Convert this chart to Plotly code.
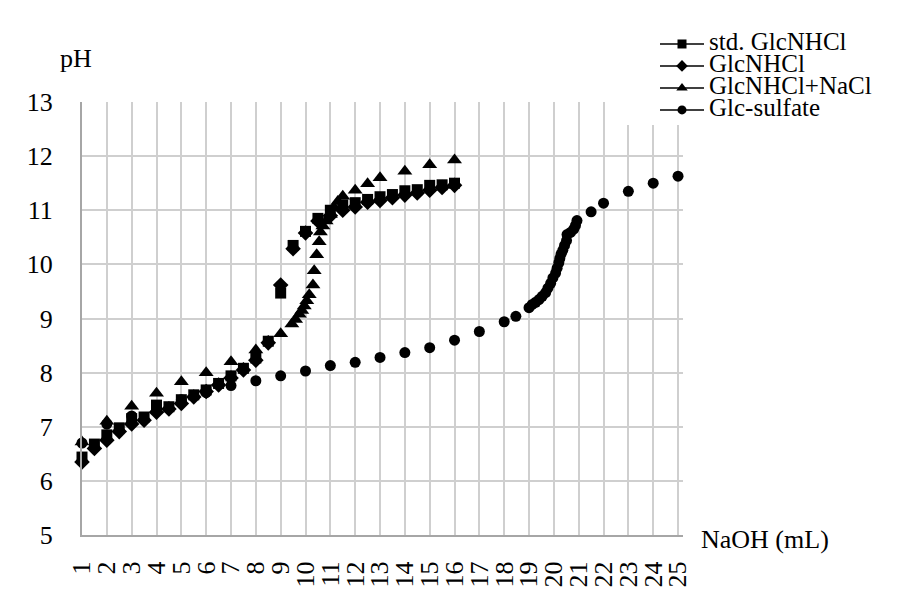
import plotly.graph_objects as go

# NaOH volume (mL) and measured pH for each titration
naoh_std = [1, 1.5, 2, 2.5, 3, 3.5, 4, 4.5, 5, 5.5, 6, 6.5, 7, 7.5, 8, 8.5,
            9, 9.5, 10, 10.5, 11, 11.5, 12, 12.5, 13, 13.5, 14, 14.5, 15, 15.5, 16]
ph_std = [6.44, 6.68, 6.85, 6.98, 7.15, 7.18, 7.40, 7.37, 7.50, 7.59, 7.68, 7.80,
          7.94, 8.08, 8.27, 8.58, 9.47, 10.35, 10.61, 10.85, 11.00, 11.10, 11.14,
          11.20, 11.25, 11.29, 11.36, 11.38, 11.46, 11.47, 11.50]

naoh_glcn = [1, 1.5, 2, 2.5, 3, 3.5, 4, 4.5, 5, 5.5, 6, 6.5, 7, 7.5, 8, 8.5,
             9, 9.5, 10, 10.5, 11, 11.5, 12, 12.5, 13, 13.5, 14, 14.5, 15, 15.5, 16]
ph_glcn = [6.35, 6.60, 6.75, 6.91, 7.05, 7.12, 7.27, 7.33, 7.43, 7.55, 7.65, 7.77,
           7.90, 8.05, 8.23, 8.55, 9.62, 10.29, 10.58, 10.80, 10.90, 11.00, 11.06,
           11.15, 11.18, 11.23, 11.28, 11.32, 11.37, 11.42, 11.46]

naoh_nacl = [1, 2, 3, 4, 5, 6, 7, 8, 9, 9.45, 9.6, 9.75, 9.85, 9.95, 10.05, 10.15,
             10.3, 10.35, 10.45, 10.55, 10.6, 10.7, 10.83, 11.0, 11.15, 11.3, 11.5,
             12, 12.5, 13, 14, 15, 16]
ph_nacl = [6.72, 7.10, 7.38, 7.62, 7.83, 8.00, 8.20, 8.42, 8.72, 8.90, 8.98, 9.08,
           9.15, 9.23, 9.33, 9.44, 9.62, 9.88, 10.18, 10.42, 10.60, 10.71, 10.80,
           10.92, 11.05, 11.16, 11.26, 11.37, 11.49, 11.60, 11.72, 11.84, 11.93]

naoh_sulf = [1, 2, 3, 4, 5, 6, 7, 8, 9, 10, 11, 12, 13, 14, 15, 16, 17, 18, 18.47,
             19.0, 19.13, 19.27, 19.4, 19.53, 19.67, 19.76, 19.87, 19.96, 20.07,
             20.13, 20.2, 20.24, 20.29, 20.36, 20.43, 20.51, 20.53, 20.67, 20.8,
             20.87, 20.93, 21.5, 22, 23, 24, 25]
ph_sulf = [6.70, 7.05, 7.20, 7.35, 7.50, 7.63, 7.76, 7.85, 7.94, 8.03, 8.13, 8.19,
           8.28, 8.37, 8.46, 8.60, 8.76, 8.94, 9.04, 9.20, 9.26, 9.30, 9.35, 9.41,
           9.48, 9.56, 9.65, 9.75, 9.84, 9.93, 10.03, 10.11, 10.19, 10.26, 10.35,
           10.44, 10.55, 10.59, 10.65, 10.72, 10.81, 10.97, 11.13, 11.35, 11.50, 11.63]

series_names = ["std. GlcNHCl", "GlcNHCl", "GlcNHCl+NaCl", "Glc-sulfate"]
series_symbols = ["square", "diamond", "triangle-up", "circle"]
series_sizes = [11, 12, 13, 11]
legend_sizes = [9, 9, 10, 9]
x_ticks = list(range(1, 26))
y_ticks = [5, 6, 7, 8, 9, 10, 11, 12, 13]

FONT = "Liberation Serif, Times New Roman, Tinos, serif"
W, H = 899, 590
L, R, T, B = 82, 216, 102, 55
pw, ph = W - L - R, H - T - B


def px_x(p):
    return (p - L) / pw


def px_y(p):
    return (H - B - p) / ph


fig = go.Figure()

data = [(naoh_std, ph_std), (naoh_glcn, ph_glcn), (naoh_nacl, ph_nacl), (naoh_sulf, ph_sulf)]
for (xs, ys), name, sym, sz in zip(data, series_names, series_symbols, series_sizes):
    fig.add_trace(go.Scatter(
        x=xs, y=ys, mode="markers", name=name, showlegend=False,
        marker=dict(symbol=sym, size=sz, color="black", line=dict(width=0)),
        cliponaxis=False,
    ))

# legend entries: line with marker, as in the series key
for name, sym, sz in zip(series_names, series_symbols, legend_sizes):
    fig.add_trace(go.Scatter(
        x=[None], y=[None], mode="lines+markers",
        name='<span style="font-size:25px">' + name + "</span>",
        marker=dict(symbol=sym, size=sz, color="black"),
        line=dict(color="black", width=1.5),
    ))

# white backdrop behind the key
fig.add_shape(type="rect", xref="paper", yref="paper", layer="above",
              x0=px_x(619), x1=px_x(W), y0=px_y(125), y1=px_y(0),
              fillcolor="white", line=dict(width=0))

fig.add_annotation(text="pH", xref="paper", yref="paper", x=px_x(58), y=px_y(58),
                   xanchor="left", yanchor="middle", showarrow=False,
                   font=dict(family=FONT, size=26, color="black"))
fig.add_annotation(text="NaOH (mL)", xref="paper", yref="paper", x=px_x(699), y=px_y(539),
                   xanchor="left", yanchor="middle", showarrow=False,
                   font=dict(family=FONT, size=26, color="black"))

fig.update_layout(
    width=W, height=H,
    template="none",
    paper_bgcolor="white", plot_bgcolor="white",
    margin=dict(l=L, r=R, t=T, b=B, pad=0),
    font=dict(family=FONT, size=26, color="black"),
    showlegend=True,
    legend=dict(
        x=px_x(655), y=px_y(28), xanchor="left", yanchor="top",
        bgcolor="rgba(0,0,0,0)", borderwidth=0,
        font=dict(family=FONT, size=14.6, color="black"),
        itemwidth=44, tracegroupgap=0,
    ),
    xaxis=dict(
        range=[1, 25.2], tickmode="array", tickvals=x_ticks,
        ticktext=[str(v) for v in x_ticks], tickangle=-90,
        showgrid=True, gridcolor="#cfcfcf", gridwidth=1.5,
        showline=True, linecolor="#a6a6a6", linewidth=2,
        zeroline=False, ticks="outside", ticklen=14, tickcolor="rgba(0,0,0,0)",
        automargin=False,
        tickfont=dict(family=FONT, size=26, color="black"),
    ),
    yaxis=dict(
        range=[5, 13], tickmode="array", tickvals=y_ticks,
        showgrid=True, gridcolor="#cfcfcf", gridwidth=1.5,
        showline=True, linecolor="#a6a6a6", linewidth=2,
        zeroline=False, ticks="outside", ticklen=22, tickcolor="rgba(0,0,0,0)",
        automargin=False,
        tickfont=dict(family=FONT, size=26, color="black"),
    ),
)

fig.write_html("out.html")
